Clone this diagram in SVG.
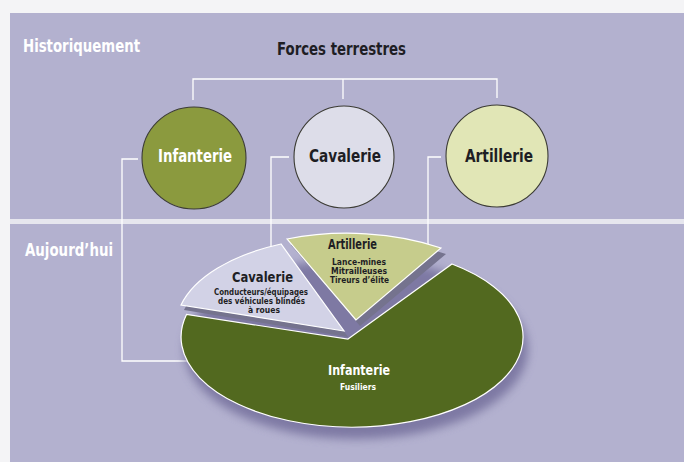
<svg xmlns="http://www.w3.org/2000/svg" width="684" height="462" viewBox="0 0 684 462">
<defs>
<style>
.t{font-family:"DejaVu Sans Condensed","Liberation Sans Narrow","Arial Narrow","Liberation Sans",sans-serif;font-weight:bold;}
.hd{font-size:18px;fill:#ffffff;}
.ttl{font-size:18px;fill:#1e1e24;}
.cl{font-size:18px;}
.sl{font-size:14.5px;fill:#1e1e24;}
.sm{font-size:8.6px;fill:#1e1e24;}
.conn{fill:none;stroke:#ffffff;stroke-width:1.3;}
.circ{stroke:#3c3c34;stroke-width:1.1;}
.slice{stroke:#ffffff;stroke-width:1.2;}
.side{fill:#75738e;}
</style>
<filter id="blur" x="-20%" y="-20%" width="140%" height="140%"><feGaussianBlur stdDeviation="5"/></filter>
</defs>
<rect x="0" y="0" width="684" height="462" fill="#f4f4f6"/>
<rect x="10" y="13" width="674" height="449" fill="#b3b1cf"/>
<rect x="10" y="219" width="674" height="5" fill="#e6e6ee"/>

<text class="t hd" x="23" y="52" textLength="117" lengthAdjust="spacingAndGlyphs">Historiquement</text>
<text class="t hd" x="25" y="256" textLength="88" lengthAdjust="spacingAndGlyphs">Aujourd’hui</text>
<text class="t ttl" x="277" y="55" textLength="129" lengthAdjust="spacingAndGlyphs">Forces terrestres</text>

<g id="connectors">
<polyline class="conn" points="193,100 193,79 497,79 497,98"/>
<line class="conn" x1="343" y1="79" x2="343" y2="99"/>
<polyline class="conn" points="138,159 122,159 122,361 270,361"/>
<polyline class="conn" points="289,157 271,157 271,262"/>
<polyline class="conn" points="441,157 428,157 428,251"/>
</g>

<g id="hist-infanterie">
<ellipse class="circ" cx="194" cy="158" rx="52" ry="51" fill="#8b9a3e"/>
<text class="t cl" x="158" y="162" fill="#ffffff" textLength="74" lengthAdjust="spacingAndGlyphs">Infanterie</text>
</g>
<g id="hist-cavalerie">
<ellipse class="circ" cx="344" cy="157" rx="50" ry="51" fill="#dddde9"/>
<text class="t cl" x="309" y="162" fill="#1e1e24" textLength="72" lengthAdjust="spacingAndGlyphs">Cavalerie</text>
</g>
<g id="hist-artillerie">
<ellipse class="circ" cx="497" cy="156" rx="51" ry="51" fill="#e1e6b6"/>
<text class="t cl" x="465" y="162" fill="#1e1e24" textLength="68" lengthAdjust="spacingAndGlyphs">Artillerie</text>
</g>

<g id="pie-shadow">
<ellipse cx="356" cy="349" rx="172" ry="90" fill="#74709c" opacity="0.85" filter="url(#blur)"/>
</g>

<g id="pie-infanterie">
<path class="slice" d="M348 339 L452 264 A171 90 0 1 1 186.5 314.5 Z" fill="#52691f"/>
<text class="t sl" x="328" y="375" style="fill:#ffffff" textLength="62" lengthAdjust="spacingAndGlyphs">Infanterie</text>
<text class="t sm" x="340" y="390" style="fill:#ffffff" textLength="36" lengthAdjust="spacingAndGlyphs">Fusiliers</text>
</g>

<g id="pie-cavalerie">
<path class="side" d="M348 337 L184 310 A171 90 0 0 1 284 249 Z"/>
<path class="slice" d="M344 331 L181 305 A171 90 0 0 1 281 244 Z" fill="#d2d2e6"/>
<text class="t sl" x="232" y="282" textLength="61" lengthAdjust="spacingAndGlyphs">Cavalerie</text>
<text class="t sm" x="214" y="294.5" textLength="94" lengthAdjust="spacingAndGlyphs">Conducteurs/équipages</text>
<text class="t sm" x="218" y="303.5" textLength="87" lengthAdjust="spacingAndGlyphs">des véhicules blindés</text>
<text class="t sm" x="248" y="312.5" textLength="32" lengthAdjust="spacingAndGlyphs">à roues</text>
</g>

<g id="pie-artillerie">
<path class="side" d="M360 326 L291 245 A171 90 0 0 1 446 254 Z"/>
<path class="slice" d="M356 320 L287 239 A171 90 0 0 1 441 248 Z" fill="#c6cc8c"/>
<text class="t sl" x="328" y="249" textLength="49" lengthAdjust="spacingAndGlyphs">Artillerie</text>
<text class="t sm" x="332" y="264.5" textLength="54" lengthAdjust="spacingAndGlyphs">Lance-mines</text>
<text class="t sm" x="331" y="273.5" textLength="56" lengthAdjust="spacingAndGlyphs">Mitrailleuses</text>
<text class="t sm" x="330" y="282.5" textLength="59" lengthAdjust="spacingAndGlyphs">Tireurs d’élite</text>
</g>
</svg>
